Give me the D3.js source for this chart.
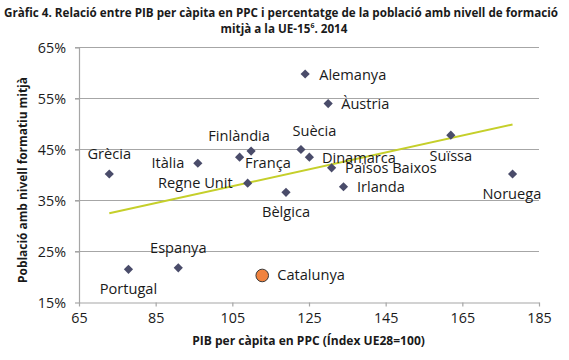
<!DOCTYPE html>
<html><head><meta charset="utf-8">
<script src="https://cdn.jsdelivr.net/npm/d3@7"></script>
<style>
body{margin:0;background:#fff;}
text{font-family:"Open Sans",sans-serif;fill:#1a1a1a;}
</style></head>
<body><svg id="c" width="569" height="360"></svg>
<script>
// ---- data ----
const countries = ["Grècia","Itàlia","França","Finlàndia","Regne Unit","Bèlgica","Suècia","Dinamarca","Alemanya","Àustria","Països Baixos","Irlanda","Suïssa","Noruega","Espanya","Portugal"];
const gdp = [72.9, 96.0, 106.9, 109.9, 109.0, 119.0, 122.9, 125.1, 124.0, 130.0, 130.9, 134.0, 162.0, 178.1, 90.9, 77.9];
const eduPct = [40.2, 42.3, 43.5, 44.7, 38.4, 36.6, 45.0, 43.5, 59.8, 54.0, 41.4, 37.7, 47.8, 40.2, 21.8, 21.5];
const highlightName = ["Catalunya"];
const highlightGdp = [112.8];
const highlightPct = [20.3];
const trendGdp = [72.9, 178.1];
const trendPct = [32.5, 49.9];
const xTicks = [65, 85, 105, 125, 145, 165, 185];
const yTicks = [15, 25, 35, 45, 55, 65];
const titleLines = ["Gràfic 4. Relació entre PIB per càpita en PPC i percentatge de la població amb nivell de formació", "mitjà a la UE-15"];
const xTitle = "PIB per càpita en PPC (Índex UE28=100)";
const yTitle = "Població amb nivell formatiu mitjà";

// ---- label placement (layout only) ----
const place = {
  "Grècia":[0,-21,"middle"], "Itàlia":[-13.5,-1,"end"], "França":[5.5,4.5,"start"],
  "Finlàndia":[-12,-16,"middle"], "Regne Unit":[-15,-1,"end"], "Bèlgica":[0,19,"middle"],
  "Suècia":[13.5,-20,"middle"], "Dinamarca":[12.5,-0.5,"start"], "Alemanya":[14,0,"start"],
  "Àustria":[13,-0.5,"start"], "Països Baixos":[13.5,-1,"start"], "Irlanda":[13.5,-0.5,"start"],
  "Suïssa":[0,19.3,"middle"], "Noruega":[-0.7,19,"middle"], "Espanya":[0,-21,"middle"],
  "Portugal":[0,19,"middle"], "Catalunya":[15,-1,"start"]
};

const svg = d3.select("#c");
const x = d3.scaleLinear().domain([65,185]).range([79,539]);
const y = d3.scaleLinear().domain([15,65]).range([302.5,47.5]);

// gridlines
svg.append("g").selectAll("line").data(yTicks.filter(t=>t>15)).join("line")
  .attr("x1",75).attr("x2",539).attr("y1",d=>y(d)).attr("y2",d=>y(d))
  .attr("stroke","#a6a6a6").attr("stroke-width",1.2);

// axes
const xa = svg.append("g").attr("transform",`translate(0,${y(15)})`)
  .call(d3.axisBottom(x).tickValues(xTicks).tickSize(4).tickSizeOuter(0).tickPadding(6));
xa.select(".domain").attr("stroke","#a6a6a6").attr("stroke-width",1.2);
xa.selectAll(".tick line").attr("stroke","#a6a6a6").attr("stroke-width",1.2);
xa.selectAll("text").attr("font-size",14.3).attr("fill","#1a1a1a").attr("font-family","Open Sans");

const ya = svg.append("g").attr("transform",`translate(${x(65)},0)`)
  .call(d3.axisLeft(y).tickValues(yTicks).tickFormat(d=>d+"%").tickSize(4).tickSizeOuter(0).tickPadding(9));
ya.select(".domain").attr("stroke","#a6a6a6").attr("stroke-width",1.2);
ya.selectAll(".tick line").attr("stroke","#a6a6a6").attr("stroke-width",1.2);
ya.selectAll("text").attr("font-size",14.3).attr("fill","#1a1a1a").attr("font-family","Open Sans");

// trendline
svg.append("path")
  .attr("d", d3.line().x(d=>x(d[0])).y(d=>y(d[1]))(trendGdp.map((g,i)=>[g,trendPct[i]])))
  .attr("stroke","#c5cf2a").attr("stroke-width",2).attr("fill","none");

// diamonds
const pts = countries.map((c,i)=>({name:c,g:gdp[i],p:eduPct[i]}));
const r = 4.6;
svg.append("g").selectAll("path").data(pts).join("path")
  .attr("d",d=>{const cx=x(d.g),cy=y(d.p);return `M${cx},${cy-r}L${cx+r},${cy}L${cx},${cy+r}L${cx-r},${cy}Z`;})
  .attr("fill","#4a4c6a");

// highlight
svg.append("g").selectAll("circle").data(highlightName.map((n,i)=>({name:n,g:highlightGdp[i],p:highlightPct[i]}))).join("circle")
  .attr("cx",d=>x(d.g)).attr("cy",d=>y(d.p)).attr("r",6.3)
  .attr("fill","#f0823e").attr("stroke","#3a3a3a").attr("stroke-width",1);

// labels
const allPts = pts.concat(highlightName.map((n,i)=>({name:n,g:highlightGdp[i],p:highlightPct[i]})));
svg.append("g").selectAll("text").data(allPts).join("text")
  .attr("x",d=>x(d.g)+place[d.name][0]).attr("y",d=>y(d.p)+place[d.name][1])
  .attr("text-anchor",d=>place[d.name][2]).attr("dominant-baseline","central")
  .attr("font-size",14.6).text(d=>d.name);

// fit helper
function fit(sel, w){ const l = sel.node().getComputedTextLength(); const fs = parseFloat(sel.attr("font-size")); sel.attr("font-size", fs*w/l); }

// title
const t1 = svg.append("text").attr("x",281).attr("y",17).attr("text-anchor","middle")
  .attr("font-weight","bold").attr("font-size",12).text(titleLines[0]);
fit(t1,555);
const t2 = svg.append("text").attr("x",284).attr("y",33).attr("text-anchor","middle")
  .attr("font-weight","bold").attr("font-size",+t1.attr("font-size"));
t2.append("tspan").text(titleLines[1]);
t2.append("tspan").attr("font-size",7).attr("dy",-5).text("6");
t2.append("tspan").attr("dy",5).text(". 2014");

// axis titles
const xt = svg.append("text").attr("x",308.5).attr("y",345).attr("text-anchor","middle")
  .attr("font-weight","bold").attr("font-size",12).text(xTitle);
fit(xt,233);
const yt = svg.append("text").attr("transform","translate(27,180) rotate(-90)").attr("text-anchor","middle")
  .attr("font-weight","bold").attr("font-size",12).text(yTitle);
fit(yt,206);
</script></body></html>
